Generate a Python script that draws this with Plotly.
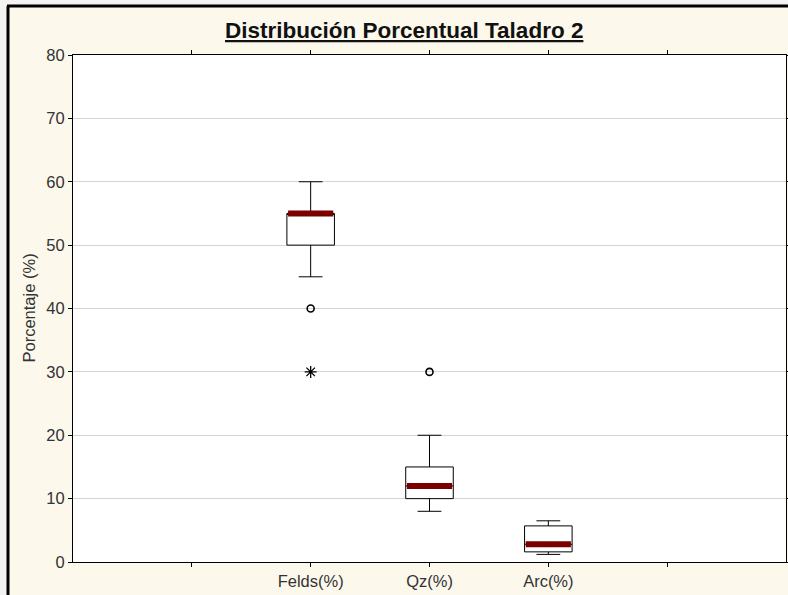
import plotly.graph_objects as go
import numpy as np

# ---- data ----
categories = ["Felds(%)", "Qz(%)", "Arc(%)"]
q1 = [50, 10, 1.6]
median = [55, 12, 2.8]
q3 = [55, 15, 5.7]
lower_whisker = [45, 8, 1.2]
upper_whisker = [60, 20, 6.5]
outlier_cat = ["Felds(%)", "Qz(%)"]
outlier_val = [40, 30]
extreme_cat = ["Felds(%)"]
extreme_val = [30]
y_ticks = [0, 10, 20, 30, 40, 50, 60, 70, 80]

# ---- layout helpers ----
W, H = 788, 595
L, R, T, B = 73, 2, 55, 33
pw, ph = W - L - R, H - T - B


def px_x(p):
    return (p - L) / pw


def px_y(p):
    return (H - B - p) / ph


pos = {c: i + 2 for i, c in enumerate(categories)}
xs = [pos[c] for c in categories]
box_w = 0.4
maroon = "#7a0000"

fig = go.Figure()
for c, a, m, b, lo, hi in zip(categories, q1, median, q3, lower_whisker, upper_whisker):
    fig.add_trace(go.Box(
        x=[pos[c]], q1=[a], median=[m], q3=[b], lowerfence=[lo], upperfence=[hi],
        width=box_w, whiskerwidth=0.5, fillcolor="white",
        line=dict(color="black", width=1), boxpoints=False,
        showlegend=False, hoverinfo="skip",
    ))

# thick median bars
mx, my = [], []
for c, m in zip(categories, median):
    mx += [pos[c] - box_w / 2 + 0.01, pos[c] + box_w / 2 - 0.01, None]
    my += [m, m, None]
fig.add_trace(go.Scatter(x=mx, y=my, mode="lines",
                         line=dict(color=maroon, width=6),
                         showlegend=False, hoverinfo="skip"))

fig.add_trace(go.Scatter(
    x=[pos[c] for c in outlier_cat], y=outlier_val, mode="markers",
    marker=dict(symbol="circle-open", size=7, color="black", line=dict(width=1.6)),
    showlegend=False, hoverinfo="skip"))
fig.add_trace(go.Scatter(
    x=[pos[c] for c in extreme_cat], y=extreme_val, mode="markers",
    marker=dict(symbol="asterisk-open", size=10, color="black", line=dict(width=1.3)),
    showlegend=False, hoverinfo="skip"))

font_family = "Liberation Sans, Arial, sans-serif"
cream = "#fcf8ec"
fs = 16.5

fig.update_layout(
    width=W, height=H,
    margin=dict(l=L, r=R, t=T, b=B, autoexpand=False),
    paper_bgcolor=cream, plot_bgcolor="white",
    font=dict(family=font_family, size=fs, color="#333333"),
    xaxis=dict(range=[0, 6], tickmode="array", automargin=False,
               tickvals=[1] + xs + [5], ticktext=[""] + categories + [""],
               showgrid=False, zeroline=False, showline=True, linecolor="black",
               linewidth=1, mirror="ticks", ticks="outside", ticklen=4,
               tickcolor="black", tickfont=dict(size=fs, color="#333333")),
    yaxis=dict(range=[0, 80], tickvals=y_ticks, showgrid=True, gridcolor="#d4d4d4",
               automargin=False,
               gridwidth=1, zeroline=False, showline=True, linecolor="black",
               linewidth=1, mirror="ticks", ticks="outside", ticklen=4,
               tickcolor="black", tickfont=dict(size=fs, color="#333333")),
    annotations=[
        dict(text="<b><u>Distribución Porcentual Taladro 2</u></b>",
             x=px_x(404), y=px_y(31), xref="paper", yref="paper",
             xanchor="center", yanchor="middle", showarrow=False,
             font=dict(size=22.5, color="#111111", family=font_family)),
        dict(text="Porcentaje (%)", x=px_x(28), y=0.5, xref="paper", yref="paper",
             xanchor="center", yanchor="middle", textangle=-90, showarrow=False,
             font=dict(size=fs, color="#333333", family=font_family)),
    ],
    shapes=[
        dict(type="rect", xref="paper", yref="paper", x0=px_x(-5), x1=px_x(W + 5),
             y0=px_y(6), y1=px_y(-5), fillcolor="#f3f3f3", line=dict(width=0), layer="below"),
        dict(type="rect", xref="paper", yref="paper", x0=px_x(-5), x1=px_x(7.5),
             y0=px_y(H + 5), y1=px_y(-5), fillcolor="#f3f3f3", line=dict(width=0), layer="below"),
        dict(type="line", xref="paper", yref="paper", x0=px_x(7), x1=px_x(W + 5),
             y0=px_y(6), y1=px_y(6), line=dict(color="black", width=3)),
        dict(type="line", xref="paper", yref="paper", x0=px_x(8), x1=px_x(8),
             y0=px_y(6), y1=px_y(H + 5), line=dict(color="black", width=3)),
    ],
)

fig.write_html("out.html", config={"displayModeBar": False},
               post_script="document.body.style.margin='0';document.body.style.overflow='hidden';")
